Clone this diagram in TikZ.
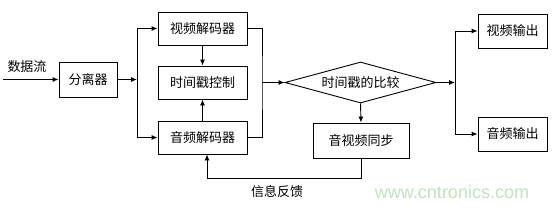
\documentclass[tikz,border=0pt]{standalone}
\usepackage{fontspec}
\newfontfamily\cjk{Noto Sans CJK SC}
\newfontfamily\wmfont{Liberation Sans}
\usetikzlibrary{arrows.meta,shapes.geometric}
\definecolor{wmgreen}{RGB}{190,228,190}
\begin{document}
\begin{tikzpicture}[x=1pt,y=-1pt,
  font=\cjk\fontsize{13}{15}\selectfont,
  box/.style={draw, line width=0.9pt, inner sep=0pt},
  arr/.style={-{Latex[length=6pt,width=5pt]}, line width=0.9pt},
  ln/.style={line width=0.9pt}]
\useasboundingbox (0,0) rectangle (554,207);
\fill[white] (0,0) rectangle (554,207);

\node[box, minimum width=58pt, minimum height=35pt] (sep) at (88,79.5) {分离器};
\node[box, minimum width=89pt, minimum height=33pt] (vdec) at (202.5,28.5) {视频解码器};
\node[box, minimum width=89pt, minimum height=33pt] (tctl) at (202.5,82.5) {时间戳控制};
\node[box, minimum width=89pt, minimum height=33pt] (adec) at (202.5,137.5) {音频解码器};
\node[box, diamond, aspect=3.68, minimum width=151pt, minimum height=41pt] (cmp) at (360.5,82.5) {时间戳的比较};
\node[box, minimum width=96pt, minimum height=35pt] (sync) at (361,140.5) {音视频同步};
\node[box, minimum width=69pt, minimum height=34pt] (vout) at (512.5,31) {视频输出};
\node[box, minimum width=69pt, minimum height=34pt] (aout) at (512.5,134) {音频输出};

\node (lin) at (27,67) {数据流};
\node (lfb) at (277,192) {信息反馈};
\node[font=\wmfont\fontsize{18}{20}\selectfont, text=wmgreen] (wm) at (452,192) {www.cntronics.com};

\coordinate (in) at (3,79.5);
\coordinate (j1) at (137,79.5);
\coordinate (j2) at (262,82.5);
\coordinate (j3) at (455,82.5);
\coordinate (fb) at (361,178);

\draw[arr] (in) -- (sep.west);
\draw[arr] (sep.east) -- (j1);
\draw[arr] (j1) |- (vdec.west);
\draw[arr] (j1) |- (adec.west);
\draw[arr] (vdec.south) -- (tctl.north);
\draw[arr] (adec.north) -- (tctl.south);
\draw[ln] (vdec.east) -| (j2) |- (adec.east);
\draw[arr] (j2) -- (cmp.west);
\draw[arr] (cmp.south) -- (sync.north);
\draw[arr] (sync.south) -- (fb) -| ([xshift=4.5pt]adec.south);
\draw[arr] (cmp.east) -- (j3);
\draw[arr] (j3) |- (vout.west);
\draw[arr] (j3) |- (aout.west);
\end{tikzpicture}
\end{document}
